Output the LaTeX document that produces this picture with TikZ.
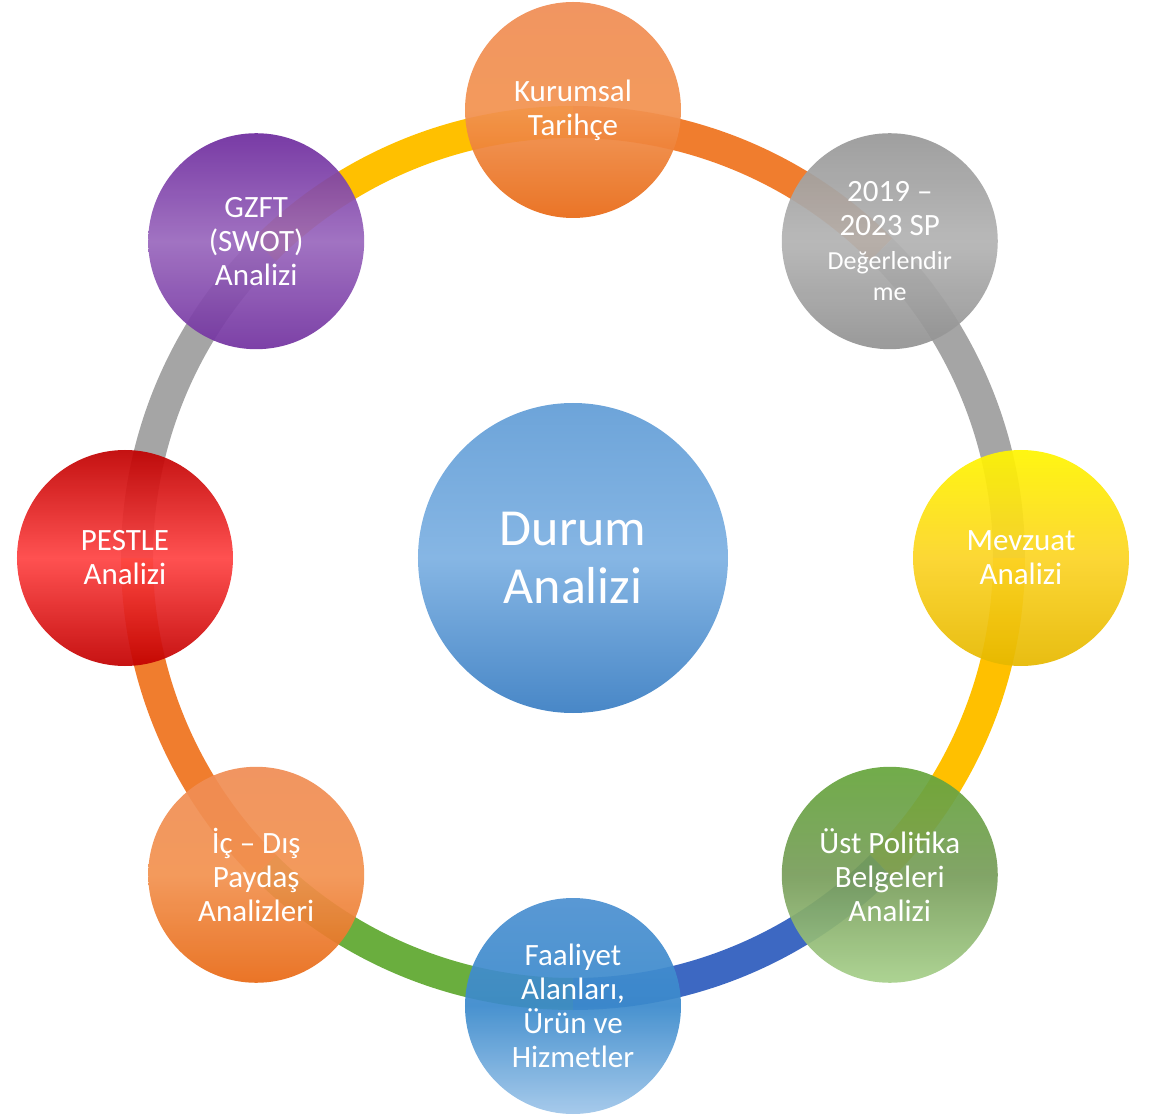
\documentclass[tikz,border=0pt]{standalone}
\usepackage{tikz}
\usetikzlibrary{calc}
\usepackage{xcolor}
\usepackage{fontspec}
\setmainfont{Carlito}

% ring colours
\definecolor{ringorange}{HTML}{F07D2E}
\definecolor{ringgray}{HTML}{A5A5A5}
\definecolor{ringgold}{HTML}{FFC000}
\definecolor{ringblue}{HTML}{3D68C2}
\definecolor{ringgreen}{HTML}{6AAE3E}
% ball colours
\definecolor{orangetop}{HTML}{F08D55}
\definecolor{orangemid}{HTML}{F29250}
\definecolor{orangebot}{HTML}{E86A16}
\definecolor{graytop}{HTML}{989898}
\definecolor{graymid}{HTML}{B3B3B3}
\definecolor{graybot}{HTML}{929292}
\definecolor{yellowtop}{HTML}{FFF500}
\definecolor{yellowmid}{HTML}{FCD426}
\definecolor{yellowbot}{HTML}{E6B800}
\definecolor{greentop}{HTML}{66A63C}
\definecolor{greenmid}{HTML}{789D5B}
\definecolor{greenbot}{HTML}{A7D08B}
\definecolor{bluetop}{HTML}{4C90D1}
\definecolor{bluemid}{HTML}{3B8ACC}
\definecolor{bluebot}{HTML}{A0C6E9}
\definecolor{redtop}{HTML}{C00000}
\definecolor{redmid}{HTML}{FF4444}
\definecolor{redbot}{HTML}{C20000}
\definecolor{purpletop}{HTML}{6E2C9E}
\definecolor{purplemid}{HTML}{9A68BD}
\definecolor{purplebot}{HTML}{7232A0}
\definecolor{durumtop}{HTML}{6DA4D9}
\definecolor{durummid}{HTML}{86B6E4}
\definecolor{durumbot}{HTML}{4887C7}

\begin{document}
\begin{tikzpicture}[x=1pt,y=1pt]
                % define styles
\tikzset{ring/.style={line width=32pt,
                       line cap=butt,
                       },
         ball/.style={circle,
                       minimum size=216pt,
                       inner sep=0,
                       fill opacity=0.93,
                       text opacity=1,
                       text=white,
                       align=center,
                       font=\fontsize{31}{34}\selectfont,
                       },
         orangeball/.style={ball,
                       top color=orangetop,
                       bottom color=orangebot,
                       middle color=orangemid,
                       },
         grayball/.style={ball,
                       top color=graytop,
                       bottom color=graybot,
                       middle color=graymid,
                       },
         yellowball/.style={ball,
                       top color=yellowtop,
                       bottom color=yellowbot,
                       middle color=yellowmid,
                       },
         greenball/.style={ball,
                       top color=greentop,
                       bottom color=greenbot,
                       middle color=greenmid,
                       },
         blueball/.style={ball,
                       top color=bluetop,
                       bottom color=bluebot,
                       middle color=bluemid,
                       },
         redball/.style={ball,
                       top color=redtop,
                       bottom color=redbot,
                       middle color=redmid,
                       },
         purpleball/.style={ball,
                       top color=purpletop,
                       bottom color=purplebot,
                       middle color=purplemid,
                       },
         centerball/.style={circle,
                       minimum size=310pt,
                       inner sep=0,
                       top color=durumtop,
                       bottom color=durumbot,
                       middle color=durummid,
                       text=white,
                       align=center,
                       font=\fontsize{52}{58}\selectfont,
                       }
}

\useasboundingbox (-573,-561) rectangle (576,558);

% points on the ring
\foreach \idx/\angle in {1/90, 2/45, 3/0, 4/-45, 5/-90, 6/-135, 7/-180, 8/-225}
    \coordinate (r\idx) at (\angle:436);

% ring segments
\foreach \clr/\idx/\angle in {ringorange/1/90, ringgray/2/45, ringgold/3/0,
                              ringblue/4/-45, ringgreen/5/-90, ringorange/6/-135,
                              ringgray/7/-180, ringgold/8/-225}
    \draw[ring, draw=\clr] (r\idx) arc[start angle=\angle, end angle=\angle-45, radius=436];

% nodes
\node[centerball] (durum) at (0,0) {Durum\\Analizi};

\node[orangeball] (tarihce) at (90:448)   {Kurumsal\\Tarihçe};
\node[grayball]   (sp)      at (45:448)   {2019 –\\2023 SP\\{\fontsize{26}{29}\selectfont Değerlendir}\\[-3pt]{\fontsize{26}{29}\selectfont me}};
\node[yellowball] (mevzuat) at (0:448)    {Mevzuat\\Analizi};
\node[greenball]  (ust)     at (-45:448)  {Üst Politika\\Belgeleri\\Analizi};
\node[blueball]   (faaliyet) at (-90:448) {Faaliyet\\Alanları,\\Ürün ve\\Hizmetler};
\node[orangeball] (paydas)  at (-135:448) {İç – Dış\\Paydaş\\Analizleri};
\node[redball]    (pestle)  at (180:448)  {PESTLE\\Analizi};
\node[purpleball] (gzft)    at (135:448)  {GZFT\\(SWOT)\\Analizi};

\end{tikzpicture}
\end{document}
